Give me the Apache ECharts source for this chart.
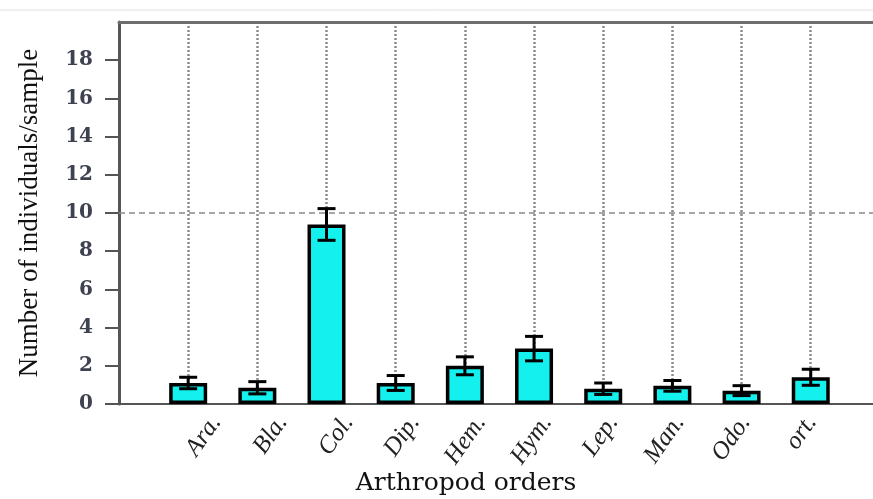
<!DOCTYPE html>
<html>
<head>
<meta charset="utf-8">
<script src="https://cdn.jsdelivr.net/npm/echarts@6/dist/echarts.min.js"></script>
<style>html,body{margin:0;padding:0;background:#fff;}#c{width:873px;height:499px;}</style>
</head>
<body>
<div id="c"></div>
<script>
const categories = ['Ara.', 'Bla.', 'Col.', 'Dip.', 'Hem.', 'Hym.', 'Lep.', 'Man.', 'Odo.', 'ort.'];
const means = [1.1, 0.85, 9.4, 1.1, 2.0, 2.9, 0.8, 0.95, 0.7, 1.4];
const errors = [0.3, 0.32, 0.83, 0.39, 0.47, 0.64, 0.3, 0.28, 0.26, 0.42];
const yTicks = [0, 2, 4, 6, 8, 10, 12, 14, 16, 18];
const refLines = [10];
const xTitle = 'Arthropod orders';
const yTitle = 'Number of individuals/sample';

const chart = echarts.init(document.getElementById('c'), null, {renderer: 'canvas'});
const barData = categories.map((c, i) => [i + 1, means[i]]);
const errData = categories.map((c, i) => [i + 1, means[i], errors[i]]);
const labelFmt = v => (Number.isInteger(v) && v >= 1 && v <= categories.length) ? categories[v - 1] : '';

const option = {
  animation: false,
  backgroundColor: '#fff',
  grid: [
    {left: 119, top: 22, width: 754, bottom: 95},
    {left: 150, top: 22, width: 754, bottom: 95}
  ],
  graphic: [
    {type: 'line', shape: {x1: 0, y1: 10, x2: 873, y2: 10}, style: {stroke: '#e2e2e2', lineWidth: 1}},
    {type: 'text', x: 466, y: 483, style: {text: xTitle, font: '25px "DejaVu Serif"', fill: '#111', textAlign: 'center', textVerticalAlign: 'middle'}}
  ],
  xAxis: [
    {
      type: 'value', gridIndex: 0, min: 0, max: 10.9, interval: 1,
      axisLine: {show: true, onZero: false, lineStyle: {color: '#555', width: 2}},
      axisTick: {show: false}, axisLabel: {show: false},
      splitLine: {show: true, showMinLine: false, showMaxLine: false, lineStyle: {color: '#8c8c8c', width: 2.5, type: [2, 2]}}
    },
    {
      type: 'value', gridIndex: 0, position: 'top', min: 0, max: 10.9, interval: 1,
      axisLine: {show: true, onZero: false, lineStyle: {color: '#6e6e6e', width: 3}},
      axisTick: {show: false}, axisLabel: {show: false}, splitLine: {show: false}
    },
    {
      type: 'value', gridIndex: 1, min: 0, max: 10.9, interval: 1,
      axisLine: {show: false}, axisTick: {show: false}, splitLine: {show: false},
      axisLabel: {
        show: true, rotate: 55, margin: 14, formatter: labelFmt,
        fontFamily: 'Liberation Serif', fontStyle: 'italic', fontSize: 25, color: '#222'
      }
    }
  ],
  yAxis: [
    {
      type: 'value', gridIndex: 0, min: 0, max: 20, interval: 2,
      name: yTitle, nameLocation: 'middle', nameGap: 76,
      nameTextStyle: {fontFamily: 'Liberation Serif', fontSize: 27, color: '#111'},
      axisLine: {show: true, onZero: false, lineStyle: {color: '#555', width: 3}},
      axisTick: {show: true, inside: false, length: 14, customValues: yTicks, lineStyle: {color: '#555', width: 2}},
      axisLabel: {
        show: true, margin: 26, customValues: yTicks,
        fontFamily: 'DejaVu Serif', fontWeight: 'bold', fontSize: 20, color: '#3e4250'
      },
      splitLine: {show: false}
    },
    {type: 'value', gridIndex: 1, min: 0, max: 20, show: false}
  ],
  series: [
    {
      type: 'bar', xAxisIndex: 0, yAxisIndex: 0, data: barData, barWidth: 38,
      itemStyle: {color: '#14F0EE', borderColor: '#000', borderWidth: 3.5},
      markLine: {
        silent: true, symbol: 'none', label: {show: false},
        lineStyle: {color: '#8a8a8a', width: 1.5, type: [6, 4]},
        data: refLines.map(v => ({yAxis: v}))
      }
    },
    {
      type: 'custom', xAxisIndex: 0, yAxisIndex: 0, data: errData, z: 5,
      renderItem: function (params, api) {
        const x = api.value(0), y = api.value(1), e = api.value(2);
        const top = api.coord([x, y + e]);
        const bot = api.coord([x, y - e]);
        const hw = 9;
        const st = {stroke: '#000', lineWidth: 3};
        return {
          type: 'group',
          children: [
            {type: 'line', shape: {x1: top[0], y1: top[1], x2: bot[0], y2: bot[1]}, style: st},
            {type: 'line', shape: {x1: top[0] - hw, y1: top[1], x2: top[0] + hw, y2: top[1]}, style: st},
            {type: 'line', shape: {x1: bot[0] - hw, y1: bot[1], x2: bot[0] + hw, y2: bot[1]}, style: st}
          ]
        };
      }
    }
  ]
};
chart.setOption(option);
</script>
</body>
</html>
